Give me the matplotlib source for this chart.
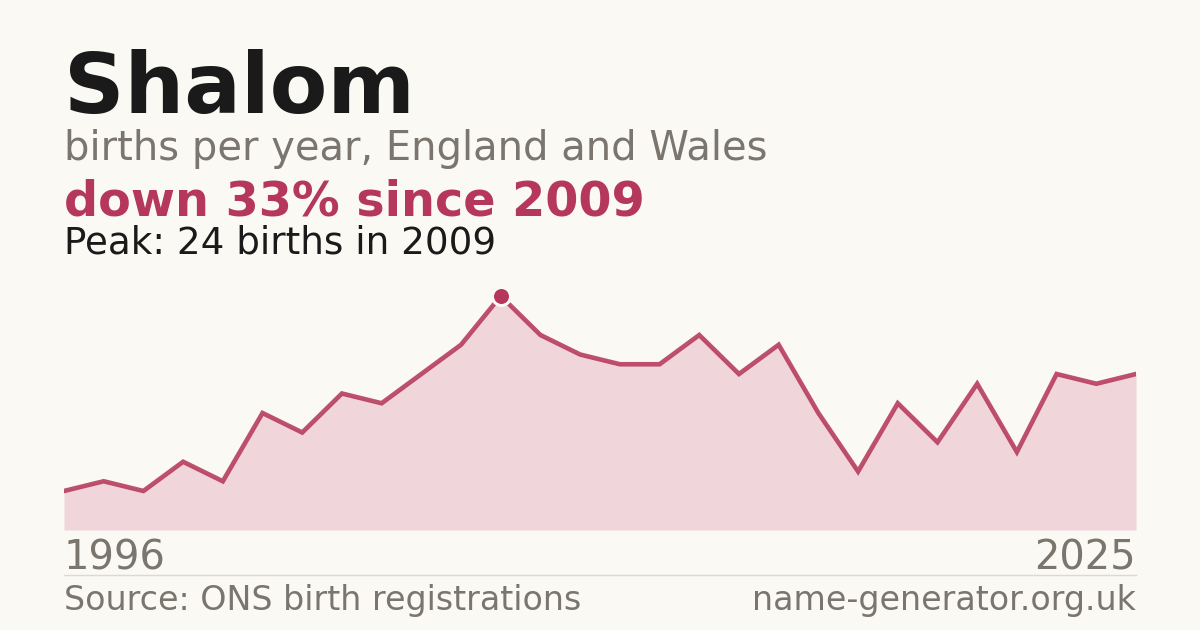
import matplotlib
matplotlib.use("Agg")
import matplotlib.pyplot as plt
import numpy as np

# ---- data ----
name = "Shalom"
subtitle = "births per year, England and Wales"
headline = "down 33% since 2009"
peak_text = "Peak: 24 births in 2009"
births = [4, 5, 4, 7, 5, 12, 10, 14, 13, 16, 19, 24, 20, 18, 17, 17,
          20, 16, 19, 12, 6, 13, 9, 15, 8, 16, 15, 16]
first_year = "1996"
last_year = "2025"
source = "Source: ONS birth registrations"
site = "name-generator.org.uk"

# ---- style ----
BG = "#faf9f4"
RED = "#b5385a"
FILL = "#f0d5da"
GREY = "#7a756d"
DARK = "#1a1a1a"
RULE = "#dcd9d3"

W, H = 1200, 630
fig = plt.figure(figsize=(W / 100, H / 100), dpi=100, facecolor=BG)
plt.rcParams['font.family'] = ['DejaVu Sans']

def fx(px):
    return px / W

def fy(py):
    return 1 - py / H

def pt(px):
    return px * 72 / 100

fig.text(fx(64), fy(113), name, fontsize=pt(84), fontweight="bold", color=DARK, va="baseline", ha="left")
fig.text(fx(64), fy(160), subtitle, fontsize=pt(40), color=GREY, va="baseline", ha="left")
fig.text(fx(64), fy(215), headline, fontsize=pt(47.8), fontweight="bold", color=RED, va="baseline", ha="left")
fig.text(fx(64), fy(254), peak_text, fontsize=pt(37.3), color=DARK, va="baseline", ha="left")

# chart area: x 64..1136, y 296 (peak) .. 530 (zero)
left, right, top, bottom = 64, 1136, 296, 530
ax = fig.add_axes([fx(left), fy(bottom), (right - left) / W, (bottom - top) / H])
ax.set_facecolor("none")
x = np.arange(len(births))
y = np.array(births)
ax.fill_between(x, 0, y, color=FILL, linewidth=0)
ax.plot(x, y, color=RED, linewidth=pt(4.6), solid_joinstyle="miter", alpha=0.88)
pk = int(np.argmax(y))
ax.plot([x[pk]], [y[pk]], marker="o", markersize=pt(18), color=RED,
        markeredgecolor=BG, markeredgewidth=pt(3), clip_on=False, zorder=5)
ax.set_xlim(0, len(births) - 1)
ax.set_ylim(0, max(births))
ax.axis("off")

fig.text(fx(64), fy(570), first_year, fontsize=pt(40), color=GREY, va="baseline", ha="left")
fig.text(fx(1136), fy(570), last_year, fontsize=pt(40), color=GREY, va="baseline", ha="right")

fig.add_artist(plt.Line2D([fx(64), fx(1136)], [fy(574.5), fy(574.5)], color=RULE, linewidth=1))

fig.text(fx(64), fy(610), source, fontsize=pt(33.3), color=GREY, va="baseline", ha="left")
fig.text(fx(1136), fy(610), site, fontsize=pt(33.3), color=GREY, va="baseline", ha="right")

fig.savefig("out.png", dpi=100, facecolor=BG)
